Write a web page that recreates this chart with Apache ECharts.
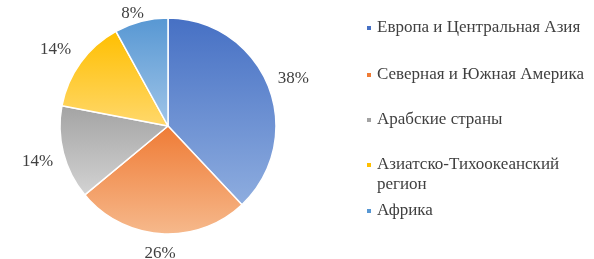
<!DOCTYPE html>
<html lang="ru">
<head>
  <meta charset="UTF-8">
  <title>Регионы</title>
  <script src="https://cdn.jsdelivr.net/npm/echarts@6/dist/echarts.min.js"></script>
  <style>
    html, body { margin: 0; padding: 0; background: #fff; }
    #chart { width: 594px; height: 259px; }
  </style>
</head>
<body>
<div id="chart"></div>
<script type="text/javascript">
  // данные
  var regions = ['Европа и Центральная Азия', 'Северная и Южная Америка', 'Арабские страны', 'Азиатско-Тихоокеанский регион', 'Африка'];
  var legendLabels = ['Европа и Центральная Азия', 'Северная и Южная Америка', 'Арабские страны', '\nАзиатско-Тихоокеанский\nрегион', 'Африка'];
  var shares = [38, 26, 14, 14, 8];
  var topColors = ['#4670c4', '#ef7b35', '#a3a3a3', '#ffbf00', '#5797d3'];
  var bottomColors = ['#8eaddf', '#f6b98c', '#d3d3d3', '#ffd86c', '#a0c5e8'];

  var cx = 168, cy = 126, R = 108;
  var total = shares.reduce(function (a, b) { return a + b; }, 0);

  var pieData = [];
  for (var i = 0; i < regions.length; i++) {
    pieData.push({
      name: regions[i],
      value: shares[i],
      itemStyle: {
        color: new echarts.graphic.LinearGradient(0, 0, 0, 1, [
          {offset: 0, color: topColors[i]},
          {offset: 1, color: bottomColors[i]}
        ])
      }
    });
  }

  // легенда: отдельный блок на каждый пункт
  var legendCenters = [28, 75, 120, 165, 211];
  var lh = 20;
  var legends = [];
  regions.forEach(function (name, k) {
    var lines = legendLabels[k].split('\n').length;
    legends.push({
      data: [{name: name, itemStyle: {color: topColors[k]}}],
      formatter: function () { return legendLabels[k]; },
      left: 365,
      top: legendCenters[k] - (lines > 1 ? lh * lines / 2 : lh / 2),
      orient: 'vertical',
      padding: 0,
      icon: 'rect',
      itemWidth: 6,
      itemHeight: 6,
      selectedMode: false,
      textStyle: {
        fontFamily: 'Liberation Serif',
        fontSize: 17,
        color: '#404040',
        lineHeight: lh
      }
    });
  });

  function midAngle(idx) {
    var acc = 0;
    for (var j = 0; j < idx; j++) acc += shares[j];
    return (acc + shares[idx] / 2) / total * Math.PI * 2;
  }

  var myChart = echarts.init(document.getElementById('chart'), null, {renderer: 'canvas'});
  var option = {
    backgroundColor: '#ffffff',
    animation: false,
    legend: legends,
    series: [{
      type: 'pie',
      center: [cx, cy],
      radius: R,
      startAngle: 90,
      clockwise: true,
      avoidLabelOverlap: false,
      data: pieData,
      itemStyle: {borderColor: '#ffffff', borderWidth: 1.5},
      label: {
        show: true,
        position: 'outside',
        formatter: '{c}%',
        fontFamily: 'Liberation Serif',
        fontSize: 17,
        color: '#404040'
      },
      labelLine: {show: false},
      labelLayout: function (params) {
        // подписи снаружи, как в Excel
        var a = midAngle(params.dataIndex);
        var s = Math.sin(a), c = Math.cos(a);
        var w = params.labelRect.width, h = 12;
        var d = R + 10 + Math.abs(s) * w / 2 + Math.abs(c) * h / 2;
        var y = Math.max(cy - c * d + 2.5, 14);
        return {
          x: cx + s * d - (s < 0 && c > 0 ? 4 : 0),
          y: y,
          align: 'center',
          verticalAlign: 'middle'
        };
      }
    }]
  };
  myChart.setOption(option);
</script>
</body>
</html>
